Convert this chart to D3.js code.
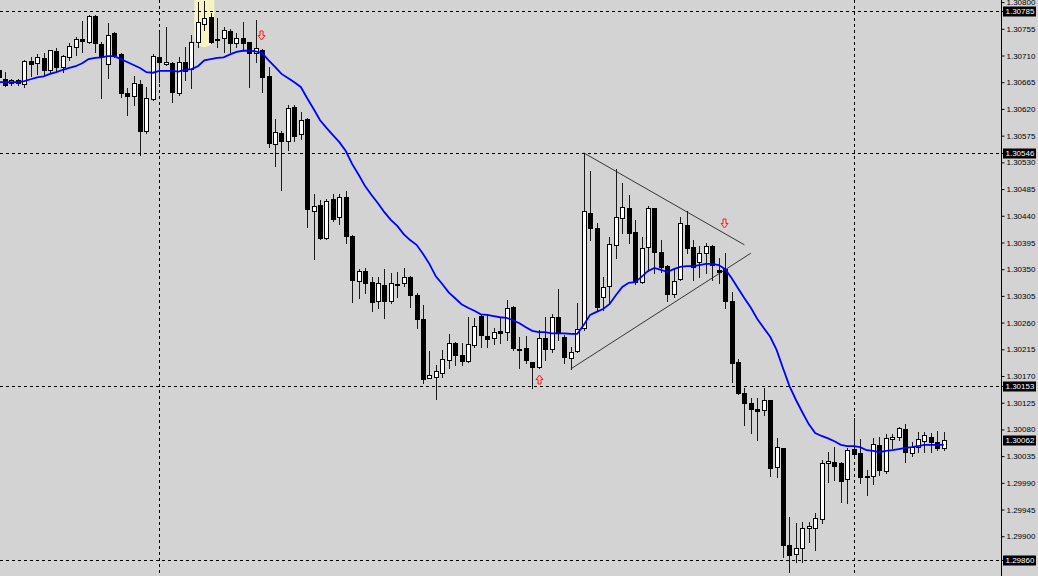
<!DOCTYPE html>
<html><head><meta charset="utf-8">
<script src="https://cdn.jsdelivr.net/npm/d3@7"></script>
<style>html,body{margin:0;padding:0;background:#d3d3d3;overflow:hidden}</style>
</head><body><svg id="c" width="1038" height="576"></svg>
<script>
// ---- data (one value per bar, oldest first) ----
const open = [1.30686,1.30670,1.30664,1.30669,1.30662,1.30701,1.30697,1.30706,1.30686,1.30718,
1.30691,1.30707,1.30724,1.30738,1.30733,1.30777,1.30729,1.30696,1.30748,1.30712,
1.30647,1.30642,1.30662,1.30583,1.30637,1.30707,1.30696,1.30697,1.30647,1.30699,
1.30687,1.30733,1.30763,1.30775,1.30738,1.30739,1.30751,1.30731,1.30739,1.30733,
1.30714,1.30719,1.30675,1.30561,1.30579,1.30566,1.30623,1.30578,1.30603,1.30448,
1.30458,1.30402,1.30468,1.30438,1.30472,1.30406,1.30330,1.30347,1.30328,1.30296,
1.30323,1.30296,1.30325,1.30327,1.30337,1.30306,1.30266,1.30167,1.30168,1.30175,
1.30197,1.30226,1.30205,1.30195,1.30222,1.30271,1.30237,1.30234,1.30246,1.30244,
1.30286,1.30215,1.30217,1.30194,1.30185,1.30234,1.30215,1.30269,1.30236,1.30200,
1.30212,1.30251,1.30445,1.30419,1.30303,1.30322,1.30391,1.30436,1.30453,1.30413,
1.30328,1.30387,1.30453,1.30379,1.30355,1.30308,1.30333,1.30424,1.30387,1.30362,
1.30377,1.30389,1.30349,1.30350,1.30296,1.30194,1.30141,1.30124,1.30114,1.30113,
1.30130,1.30017,1.30049,1.29885,1.29870,1.29880,1.29914,1.29914,1.29929,1.30023,
1.30025,1.30023,1.29996,1.30047,1.30040,1.30001,1.30001,1.30054,1.30010,1.30064,
1.30067,1.30081,1.30040,1.30050,1.30060,1.30067,1.30059,1.30049];
const high = [1.30689,1.30682,1.30670,1.30670,1.30702,1.30707,1.30712,1.30714,1.30719,1.30723,
1.30711,1.30731,1.30741,1.30768,1.30778,1.30778,1.30733,1.30765,1.30750,1.30714,
1.30655,1.30675,1.30669,1.30657,1.30712,1.30750,1.30758,1.30699,1.30707,1.30724,
1.30745,1.30800,1.30802,1.30782,1.30773,1.30758,1.30755,1.30748,1.30766,1.30733,
1.30770,1.30721,1.30691,1.30603,1.30583,1.30627,1.30627,1.30615,1.30605,1.30477,
1.30467,1.30468,1.30477,1.30477,1.30482,1.30407,1.30350,1.30352,1.30337,1.30337,
1.30350,1.30344,1.30345,1.30352,1.30338,1.30310,1.30290,1.30212,1.30188,1.30214,
1.30241,1.30227,1.30226,1.30269,1.30268,1.30273,1.30273,1.30251,1.30268,1.30298,
1.30288,1.30236,1.30237,1.30194,1.30247,1.30269,1.30274,1.30317,1.30239,1.30219,
1.30293,1.30546,1.30515,1.30428,1.30337,1.30404,1.30519,1.30495,1.30475,1.30433,
1.30404,1.30456,1.30453,1.30399,1.30357,1.30352,1.30438,1.30448,1.30399,1.30389,
1.30394,1.30391,1.30369,1.30377,1.30311,1.30199,1.30150,1.30133,1.30133,1.30150,
1.30130,1.30065,1.30049,1.29932,1.29922,1.29924,1.29924,1.29939,1.30028,1.30042,
1.30050,1.30025,1.30049,1.30099,1.30064,1.30012,1.30065,1.30067,1.30072,1.30072,
1.30084,1.30089,1.30059,1.30076,1.30076,1.30074,1.30077,1.30076];
const low = [1.30669,1.30659,1.30660,1.30660,1.30657,1.30675,1.30679,1.30677,1.30682,1.30682,
1.30682,1.30702,1.30711,1.30716,1.30731,1.30716,1.30638,1.30672,1.30707,1.30640,
1.30610,1.30627,1.30542,1.30579,1.30635,1.30665,1.30694,1.30632,1.30643,1.30669,
1.30655,1.30724,1.30753,1.30731,1.30724,1.30716,1.30716,1.30724,1.30719,1.30657,
1.30699,1.30648,1.30556,1.30524,1.30483,1.30551,1.30566,1.30569,1.30421,1.30367,
1.30401,1.30401,1.30431,1.30426,1.30394,1.30295,1.30301,1.30310,1.30280,1.30285,
1.30268,1.30293,1.30303,1.30322,1.30286,1.30251,1.30158,1.30167,1.30131,1.30168,
1.30183,1.30188,1.30188,1.30194,1.30219,1.30219,1.30219,1.30224,1.30226,1.30231,
1.30214,1.30183,1.30192,1.30150,1.30183,1.30197,1.30210,1.30231,1.30192,1.30182,
1.30210,1.30247,1.30399,1.30281,1.30281,1.30293,1.30369,1.30411,1.30394,1.30325,
1.30327,1.30347,1.30344,1.30345,1.30296,1.30303,1.30332,1.30377,1.30332,1.30337,
1.30344,1.30332,1.30327,1.30285,1.30160,1.30140,1.30087,1.30074,1.30062,1.30104,
1.30001,1.30000,1.29865,1.29840,1.29856,1.29856,1.29890,1.29877,1.29922,1.29991,
1.29995,1.29958,1.29956,1.30033,1.29990,1.29969,1.29988,1.30003,1.30006,1.30049,
1.30062,1.30025,1.30035,1.30042,1.30042,1.30042,1.30045,1.30045];
const close = [1.30674,1.30660,1.30669,1.30664,1.30701,1.30696,1.30707,1.30686,1.30719,1.30691,
1.30709,1.30726,1.30738,1.30734,1.30777,1.30731,1.30709,1.30745,1.30711,1.30647,
1.30642,1.30664,1.30583,1.30638,1.30709,1.30699,1.30699,1.30648,1.30699,1.30684,
1.30733,1.30766,1.30773,1.30733,1.30736,1.30753,1.30731,1.30739,1.30731,1.30714,
1.30723,1.30674,1.30563,1.30581,1.30566,1.30621,1.30574,1.30601,1.30451,1.30456,
1.30402,1.30465,1.30434,1.30472,1.30406,1.30332,1.30347,1.30327,1.30295,1.30327,
1.30296,1.30327,1.30323,1.30337,1.30306,1.30266,1.30165,1.30172,1.30178,1.30199,
1.30226,1.30205,1.30195,1.30224,1.30254,1.30239,1.30232,1.30244,1.30242,1.30285,
1.30217,1.30214,1.30197,1.30185,1.30234,1.30215,1.30269,1.30242,1.30202,1.30210,
1.30249,1.30448,1.30419,1.30286,1.30320,1.30393,1.30438,1.30455,1.30411,1.30328,
1.30386,1.30453,1.30379,1.30354,1.30308,1.30330,1.30428,1.30386,1.30354,1.30377,
1.30389,1.30357,1.30345,1.30296,1.30192,1.30141,1.30124,1.30114,1.30111,1.30130,
1.30015,1.30050,1.29885,1.29868,1.29880,1.29914,1.29917,1.29931,1.30023,1.30027,
1.30018,1.29993,1.30045,1.30038,1.30000,1.30000,1.30055,1.30012,1.30065,1.30067,
1.30082,1.30042,1.30050,1.30064,1.30071,1.30059,1.30049,1.30062];
const maValues = [1.30665,1.30665,1.30665,1.30665,1.30667,1.30670,1.30673,1.30675,1.30679,1.30682,
1.30686,1.30689,1.30692,1.30697,1.30704,1.30706,1.30707,1.30709,1.30709,1.30704,
1.30699,1.30694,1.30689,1.30682,1.30681,1.30684,1.30684,1.30684,1.30683,1.30686,
1.30687,1.30692,1.30702,1.30704,1.30706,1.30707,1.30712,1.30716,1.30718,1.30718,
1.30717,1.30714,1.30702,1.30691,1.30679,1.30672,1.30665,1.30657,1.30638,1.30620,
1.30601,1.30588,1.30576,1.30564,1.30549,1.30527,1.30509,1.30490,1.30475,1.30461,
1.30446,1.30433,1.30423,1.30409,1.30399,1.30391,1.30376,1.30359,1.30338,1.30325,
1.30311,1.30301,1.30291,1.30285,1.30280,1.30274,1.30273,1.30271,1.30269,1.30268,
1.30264,1.30259,1.30252,1.30246,1.30244,1.30244,1.30242,1.30242,1.30242,1.30241,
1.30241,1.30256,1.30273,1.30278,1.30283,1.30291,1.30306,1.30320,1.30327,1.30328,
1.30337,1.30347,1.30352,1.30349,1.30345,1.30350,1.30354,1.30355,1.30355,1.30357,
1.30359,1.30359,1.30357,1.30350,1.30335,1.30318,1.30301,1.30285,1.30266,1.30251,
1.30236,1.30214,1.30183,1.30153,1.30130,1.30109,1.30089,1.30074,1.30069,1.30065,
1.30060,1.30054,1.30052,1.30052,1.30050,1.30045,1.30044,1.30042,1.30044,1.30045,
1.30047,1.30049,1.30050,1.30052,1.30054,1.30054,1.30054,1.30054];
const priceTicks = [1.30800,1.30755,1.30710,1.30665,1.30620,1.30575,1.30530,1.30485,1.30440,1.30395,
1.30350,1.30305,1.30260,1.30215,1.30170,1.30125,1.30080,1.30035,1.29990,1.29945,1.29900];
const hLinePrices = [1.30785,1.30546,1.30153,1.29860];
const bidPrice = 1.30062;
const separatorBars = [25,133];
const trendLines = [ {b0:91,p0:1.30546,b1:116,p1:1.30391}, {b0:89,p0:1.30182,b1:117,p1:1.30377} ];
const sellArrows = [ {bar:41,price:1.30745}, {bar:113,price:1.30427} ];
const buyArrows = [ {bar:84,price:1.30165} ];
const highlightBar = 32, highlightBottom = 1.30724;

// ---- drawing ----
const W=1038, H=576, axisX=1001;
const svg=d3.select('#c');
svg.append('rect').attr('width',W).attr('height',H).attr('fill','#d3d3d3');
const x=d3.scaleLinear().domain([0,147]).range([-1.43,943.78]);
const y=d3.scaleLinear().domain([1.29860,1.30785]).range([560,11]);
svg.append('defs').append('clipPath').attr('id','clip').append('rect').attr('x',0).attr('y',0).attr('width',axisX).attr('height',H);
const g=svg.append('g').attr('clip-path','url(#clip)');

// highlight
const hx=x(highlightBar);
g.append('rect').attr('x',hx-10).attr('y',-20).attr('width',20).attr('height',y(highlightBottom)+20)
 .attr('rx',10).attr('ry',10).attr('fill','#f8f3c2');

// separators
g.selectAll('.sep').data(separatorBars).join('line')
 .attr('x1',d=>Math.round(x(d))+0.5).attr('x2',d=>Math.round(x(d))+0.5)
 .attr('y1',0).attr('y2',H).attr('stroke','#000').attr('stroke-width',1).attr('stroke-dasharray','3,3');

// horizontal lines
svg.selectAll('.hl').data(hLinePrices).join('line')
 .attr('x1',0).attr('x2',1003).attr('y1',d=>Math.round(y(d))+0.5).attr('y2',d=>Math.round(y(d))+0.5)
 .attr('stroke','#000').attr('stroke-width',1).attr('stroke-dasharray','3,3');

// candles
const idx=d3.range(open.length);
const cg=g.append('g');
idx.forEach(i=>{
  const cx=Math.round(x(i));
  cg.append('line').attr('x1',cx+0.5).attr('x2',cx+0.5)
    .attr('y1',Math.round(y(high[i]))).attr('y2',Math.round(y(low[i]))+1)
    .attr('stroke','#1a1a1a').attr('stroke-width',1);
  const bull=close[i]>=open[i];
  const t=Math.round(y(Math.max(open[i],close[i])))+0.5;
  const b=Math.round(y(Math.min(open[i],close[i])))+0.5;
  if(b-t<1){
    cg.append('line').attr('x1',cx-2).attr('x2',cx+3).attr('y1',t).attr('y2',t).attr('stroke','#000');
  } else {
    cg.append('rect').attr('x',cx-1.5).attr('width',4).attr('y',t).attr('height',b-t)
      .attr('fill',bull?'#fff':'#000').attr('stroke','#000').attr('stroke-width',1);
  }
});

// trendlines
g.selectAll('.tl').data(trendLines).join('line')
 .attr('x1',d=>x(d.b0)).attr('y1',d=>y(d.p0)).attr('x2',d=>x(d.b1)).attr('y2',d=>y(d.p1))
 .attr('stroke','#222').attr('stroke-width',0.9);

// moving average
g.append('path').datum(maValues)
 .attr('d',d3.line().x((d,i)=>x(i)).y(d=>y(d)))
 .attr('fill','none').attr('stroke','#0000ff').attr('stroke-width',1.8);

// arrows
function arrowPath(cx,cy,down){
  const s=down?1:-1;
  return `M${cx-1.5},${cy-4.5*s} L${cx+1.5},${cy-4.5*s} L${cx+1.5},${cy} L${cx+3.5},${cy} L${cx},${cy+4.5*s} L${cx-3.5},${cy} L${cx-1.5},${cy} Z`;
}
g.selectAll('.sa').data(sellArrows).join('path')
 .attr('d',d=>arrowPath(Math.round(x(d.bar))-0.5,Math.round(y(d.price))+0.5,true))
 .attr('fill','#f2c4c4').attr('stroke','#ee2222').attr('stroke-width',1);
g.selectAll('.ba').data(buyArrows).join('path')
 .attr('d',d=>arrowPath(Math.round(x(d.bar))+0.5,Math.round(y(d.price))+0.5,false))
 .attr('fill','#f2c4c4').attr('stroke','#ee2222').attr('stroke-width',1);

// axis
svg.append('line').attr('x1',axisX+0.5).attr('x2',axisX+0.5).attr('y1',0).attr('y2',H).attr('stroke','#000');
const ax=svg.append('g').attr('transform',`translate(${axisX+0.5},0)`)
 .call(d3.axisRight(y).tickValues(priceTicks).tickSize(3).tickPadding(2).tickFormat(d3.format('.5f')));
ax.select('.domain').remove();
ax.selectAll('text').attr('font-family','"Liberation Sans", Arial, sans-serif').attr('font-size','8px').attr('fill','#000');
ax.selectAll('line').attr('stroke','#000');

// price boxes
const boxes=hLinePrices.concat([bidPrice]);
const bg=svg.append('g');
boxes.forEach(p=>{
  const yy=Math.round(y(p));
  bg.append('rect').attr('x',1003).attr('y',yy-4.5).attr('width',33).attr('height',10).attr('fill','#000');
  bg.append('text').attr('x',1005.5).attr('y',yy+0.5).attr('dy','0.32em')
    .attr('font-family','"Liberation Sans", Arial, sans-serif').attr('font-size','8px').attr('fill','#fff')
    .text(d3.format('.5f')(p));
});
</script></body></html>
